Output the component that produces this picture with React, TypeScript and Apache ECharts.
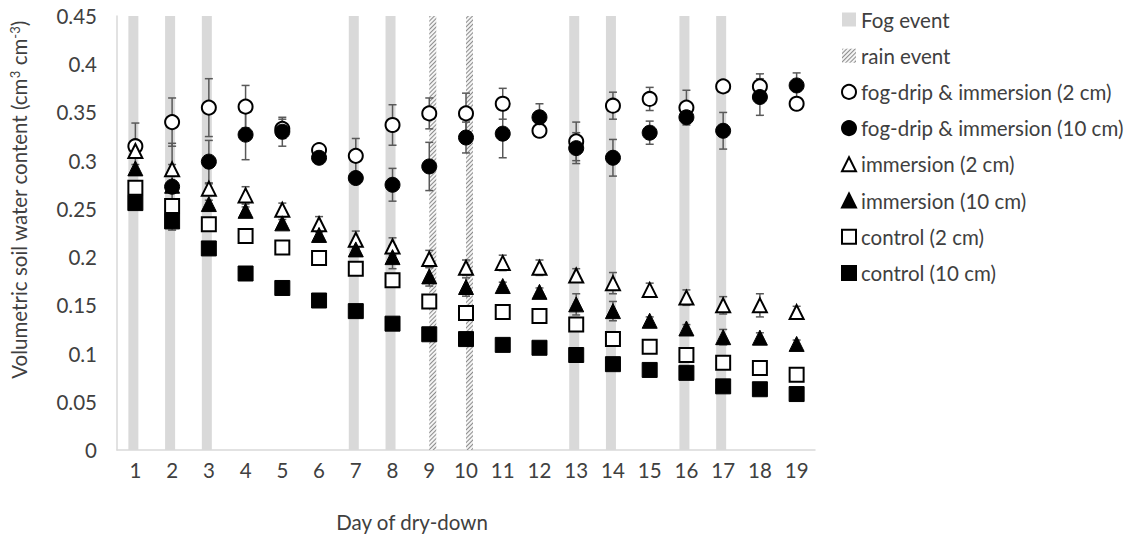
import React, { useEffect, useRef } from "react";
import * as echarts from "echarts";

const days = ["1","2","3","4","5","6","7","8","9","10","11","12","13","14","15","16","17","18","19"];
const fogDays = [1, 2, 3, 7, 8, 13, 14, 16, 17];
const rainDays = [9, 10];
const eventTop = 0.45;

const fdi2 = [0.315, 0.340, 0.355, 0.356, 0.333, 0.311, 0.305, 0.337, 0.349, 0.349, 0.359, 0.331, 0.320, 0.357, 0.364, 0.355, 0.377, 0.377, 0.359];
const fdi2Err = [0.024, 0.025, 0.030, 0.022, 0.010, 0.004, 0.018, 0.021, 0.016, 0.021, 0.016, 0.004, 0.020, 0.014, 0.012, 0.018, 0.004, 0.013, 0.004];
const fdi10 = [null, 0.273, 0.299, 0.327, 0.330, 0.303, 0.282, 0.275, 0.294, 0.324, 0.328, 0.345, 0.313, 0.303, 0.329, 0.345, 0.331, 0.366, 0.378];
const fdi10Err = [0, 0.045, 0.022, 0.026, 0.015, 0.004, 0.005, 0.017, 0.025, 0.016, 0.025, 0.014, 0.016, 0.019, 0.012, 0.004, 0.019, 0.019, 0.013];
const imm2 = [0.310, 0.291, 0.271, 0.264, 0.249, 0.234, 0.218, 0.211, 0.198, 0.189, 0.194, 0.189, 0.181, 0.173, 0.166, 0.158, 0.150, 0.150, 0.143];
const imm2Err = [0.005, 0.005, 0.005, 0.009, 0.007, 0.008, 0.009, 0.009, 0.009, 0.008, 0.008, 0.008, 0.007, 0.011, 0.007, 0.008, 0.009, 0.012, 0.006];
const imm10 = [0.292, 0.274, 0.255, 0.248, 0.235, 0.223, 0.208, 0.200, 0.180, 0.169, 0.170, 0.164, 0.151, 0.144, 0.134, 0.126, 0.117, 0.1165, 0.110];
const imm10Err = [0.004, 0.004, 0.004, 0.004, 0.004, 0.004, 0.004, 0.012, 0.010, 0.0095, 0.004, 0.004, 0.011, 0.010, 0.004, 0.004, 0.008, 0.005, 0.004];
const ctrl2 = [0.272, 0.253, 0.234, 0.222, 0.210, 0.199, 0.188, 0.176, 0.154, 0.142, 0.143, 0.139, 0.130, 0.115, 0.107, 0.0985, 0.0905, 0.085, 0.078];
const ctrl10 = [0.256, 0.237, 0.209, 0.183, 0.168, 0.155, 0.144, 0.131, 0.120, 0.115, 0.109, 0.106, 0.0985, 0.089, 0.083, 0.080, 0.066, 0.063, 0.058];

const legendNames = [
  "Fog event",
  "rain event",
  "fog-drip & immersion (2 cm)",
  "fog-drip & immersion (10 cm)",
  "immersion (2 cm)",
  "immersion (10 cm)",
  "control (2 cm)",
  "control (10 cm)",
];

const FONT = "Lato";
const TXT = "#404040";
const FS = 20.5;

export default function App() {
  const ref = useRef<HTMLDivElement>(null);
  useEffect(() => {
    document.body.style.margin = "0";
    const chart = echarts.init(ref.current!, null, { renderer: "svg" });

    const eventData = (list: number[]) => days.map((_, i) => (list.includes(i + 1) ? eventTop : "-"));
    const errData: number[][] = [];
    const addErr = (vals: (number | null)[], errs: number[]) => {
      vals.forEach((v, i) => {
        if (v != null && errs[i] > 0) errData.push([i, v, errs[i]]);
      });
    };
    addErr(fdi2, fdi2Err);
    addErr(fdi10, fdi10Err);
    addErr(imm2, imm2Err);
    addErr(imm10, imm10Err);

    const open = { color: "#ffffff", borderColor: "#000000", borderWidth: 2, opacity: 1 };
    const filled = { color: "#000000", borderColor: "#000000", borderWidth: 1, opacity: 1 };
    const sc = (name: string, data: (number | null)[], symbol: string, size: number, style: any) => ({
      name,
      type: "scatter",
      data: data.map((v) => (v == null ? "-" : v)),
      symbol,
      symbolSize: size,
      itemStyle: style,
      emphasis: { disabled: true },
      z: 4,
    });

    chart.setOption({
      animation: false,
      grid: { left: 117, right: 322, top: 16, bottom: 87 },
      textStyle: { fontFamily: FONT },
      legend: {
        orient: "vertical",
        left: 836,
        top: 4,
        itemWidth: 14,
        itemHeight: 14,
        itemGap: 15.2,
        textStyle: { fontFamily: FONT, fontSize: FS, color: TXT, lineHeight: 20 },
        data: [
          { name: legendNames[0], icon: "rect" },
          { name: legendNames[1], icon: "rect" },
          { name: legendNames[2], icon: "circle" },
          { name: legendNames[3], icon: "circle" },
          { name: legendNames[4], icon: "triangle" },
          { name: legendNames[5], icon: "triangle" },
          { name: legendNames[6], icon: "rect" },
          { name: legendNames[7], icon: "rect" },
        ],
      },
      xAxis: {
        type: "category",
        data: days,
        boundaryGap: true,
        axisLine: { lineStyle: { color: "#d9d9d9", width: 1.5 } },
        axisTick: { show: false },
        axisLabel: { fontFamily: FONT, fontSize: FS, color: TXT, margin: 9 },
      },
      yAxis: {
        type: "value",
        min: 0,
        max: 0.45,
        interval: 0.05,
        axisLine: { show: true, lineStyle: { color: "#d9d9d9", width: 1.5 } },
        axisTick: { show: false },
        splitLine: { show: false },
        axisLabel: { fontFamily: FONT, fontSize: FS, color: TXT, margin: 20 },
      },
      graphic: [
        {
          type: "text",
          x: 19,
          y: 200,
          rotation: Math.PI / 2,
          style: {
            text: "{a|Volumetric soil water content (cm}{s|3}{a| cm}{s|-3}{a|)}",
            align: "center",
            verticalAlign: "middle",
            rich: {
              a: { fontFamily: FONT, fontSize: FS, fill: TXT, lineHeight: 22 },
              s: { fontFamily: FONT, fontSize: 13, fill: TXT, lineHeight: 22, verticalAlign: "top" },
            },
          },
        },
        {
          type: "text",
          x: 412,
          y: 522,
          style: {
            text: "Day of dry-down",
            align: "center",
            verticalAlign: "middle",
            fontFamily: FONT,
            fontSize: FS,
            fill: TXT,
          },
        },
      ],
      series: [
        {
          name: legendNames[0],
          type: "bar",
          data: eventData(fogDays),
          barWidth: 10,
          barGap: "-30%",
          itemStyle: { color: "#d9d9d9" },
          emphasis: { disabled: true },
          z: 1,
        },
        {
          name: legendNames[1],
          type: "bar",
          data: eventData(rainDays),
          barWidth: 7,
          emphasis: { disabled: true },
          itemStyle: {
            color: "#f4f4f4",
            decal: {
              symbol: "rect",
              color: "#8c8c8c",
              dashArrayX: [1, 0],
              dashArrayY: [1, 2],
              rotation: -Math.PI / 4,
            },
          },
          z: 1,
        },
        {
          name: "errors",
          type: "custom",
          data: errData,
          z: 2,
          silent: true,
          encode: { x: 0, y: 1 },
          renderItem: (params: any, api: any) => {
            const x = api.value(0);
            const y = api.value(1);
            const e = api.value(2);
            const top = api.coord([x, y + e]);
            const bot = api.coord([x, y - e]);
            const st = { stroke: "#595959", lineWidth: 1.5 };
            return {
              type: "group",
              children: [
                { type: "line", shape: { x1: top[0], y1: top[1], x2: bot[0], y2: bot[1] }, style: st },
                { type: "line", shape: { x1: top[0] - 4, y1: top[1], x2: top[0] + 4, y2: top[1] }, style: st },
                { type: "line", shape: { x1: bot[0] - 4, y1: bot[1], x2: bot[0] + 4, y2: bot[1] }, style: st },
              ],
            };
          },
        },
        sc(legendNames[2], fdi2, "circle", 14, open),
        sc(legendNames[3], fdi10, "circle", 15, filled),
        sc(legendNames[4], imm2, "triangle", 14, open),
        sc(legendNames[5], imm10, "triangle", 15, filled),
        sc(legendNames[6], ctrl2, "rect", 14, open),
        sc(legendNames[7], ctrl10, "rect", 15, filled),
      ],
    });
    return () => chart.dispose();
  }, []);
  return <div ref={ref} style={{ width: 1137, height: 537 }} />;
}
